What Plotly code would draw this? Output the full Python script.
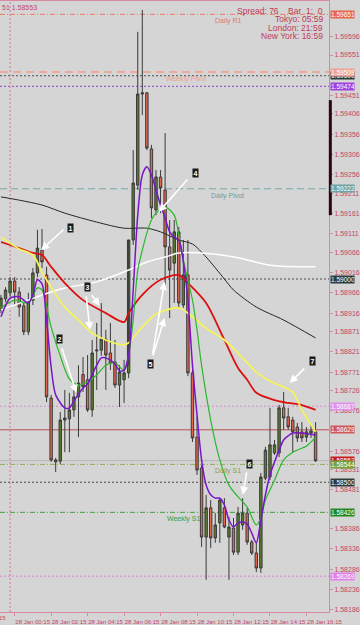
import plotly.graph_objects as go
import pandas as pd

# ---------------- data ----------------
times = pd.date_range("2013-01-27 23:30", periods=70, freq="15min")

opens = [1.58924, 1.58951, 1.58966, 1.58995, 1.58968, 1.58934, 1.58870, 1.58948, 1.59015, 1.59071,
         1.59010, 1.58707, 1.58555, 1.58552, 1.58653, 1.58656, 1.58678, 1.58710, 1.58765, 1.58752,
         1.58678, 1.58823, 1.58825, 1.58852, 1.58818, 1.58796, 1.58739, 1.58752, 1.58769, 1.59096,
         1.59231, 1.59455, 1.59458, 1.59320, 1.59170, 1.59251, 1.59219, 1.59079, 1.59039, 1.59116,
         1.58936, 1.59010, 1.58769, 1.58611, 1.58535, 1.58365, 1.58437, 1.58363, 1.58400, 1.58437,
         1.58365, 1.58387, 1.58328, 1.58395, 1.58424, 1.58353, 1.58326, 1.58289, 1.58510, 1.58513,
         1.58572, 1.58572, 1.58683, 1.58661, 1.58653, 1.58636, 1.58624, 1.58611, 1.58621, 1.58624]
highs = [1.58961, 1.58980, 1.59005, 1.59005, 1.58980, 1.58948, 1.58966, 1.59027, 1.59121, 1.59123,
         1.59030, 1.58715, 1.58560, 1.58673, 1.58727, 1.58720, 1.58727, 1.58788, 1.58808, 1.58813,
         1.58850, 1.58892, 1.58941, 1.58875, 1.58892, 1.58850, 1.58788, 1.58801, 1.58788, 1.59317,
         1.59608, 1.59662, 1.59460, 1.59330, 1.59268, 1.59268, 1.59359, 1.59145, 1.59145, 1.59128,
         1.59096, 1.59096, 1.58776, 1.58661, 1.58542, 1.58469, 1.58456, 1.58424, 1.58461, 1.58461,
         1.58415, 1.58412, 1.58439, 1.58461, 1.58437, 1.58358, 1.58351, 1.58523, 1.58587, 1.58683,
         1.58604, 1.58690, 1.58722, 1.58683, 1.58661, 1.58646, 1.58648, 1.58636, 1.58641, 1.58648]
lows = [1.58916, 1.58943, 1.58956, 1.58936, 1.58907, 1.58862, 1.58862, 1.58936, 1.59005, 1.59027,
        1.58697, 1.58550, 1.58525, 1.58545, 1.58574, 1.58574, 1.58661, 1.58611, 1.58722, 1.58673,
        1.58661, 1.58727, 1.58811, 1.58727, 1.58776, 1.58732, 1.58685, 1.58695, 1.58756, 1.59084,
        1.59219, 1.59403, 1.59317, 1.59150, 1.59157, 1.59162, 1.58973, 1.58904, 1.58941, 1.58931,
        1.58929, 1.58761, 1.58599, 1.58518, 1.58341, 1.58260, 1.58338, 1.58351, 1.58351, 1.58387,
        1.58260, 1.58321, 1.58321, 1.58383, 1.58346, 1.58321, 1.58279, 1.58277, 1.58505, 1.58505,
        1.58567, 1.58562, 1.58629, 1.58629, 1.58572, 1.58599, 1.58599, 1.58599, 1.58609, 1.58550]
closes = [1.58953, 1.58973, 1.58995, 1.58968, 1.58931, 1.58870, 1.58943, 1.59015, 1.59076, 1.59042,
          1.58710, 1.58555, 1.58550, 1.58653, 1.58658, 1.58678, 1.58710, 1.58744, 1.58735, 1.58678,
          1.58818, 1.58825, 1.58852, 1.58813, 1.58793, 1.58739, 1.58771, 1.58769, 1.59096, 1.59236,
          1.59455, 1.59458, 1.59322, 1.59175, 1.59251, 1.59224, 1.59079, 1.59022, 1.59116, 1.58941,
          1.59010, 1.58769, 1.58609, 1.58530, 1.58365, 1.58437, 1.58363, 1.58395, 1.58456, 1.58390,
          1.58390, 1.58328, 1.58424, 1.58424, 1.58353, 1.58326, 1.58289, 1.58513, 1.58579, 1.58592,
          1.58592, 1.58683, 1.58658, 1.58636, 1.58624, 1.58609, 1.58609, 1.58624, 1.58626, 1.58553]

# moving-average lines (bar index -> price)
purple_idx = [0, 2, 4, 6, 7, 8, 9, 10, 11, 12, 14, 15, 16, 18, 19, 21, 22, 23, 25, 26, 27, 28, 29, 30,
              31, 32, 33, 34, 35, 36, 37, 38, 39, 40, 41, 42, 43, 44, 45, 46, 47, 48, 49, 50, 51, 52,
              53, 54, 55, 56, 57, 58, 59, 60, 61, 62, 63, 64, 66, 69]
purple_val = [1.58907, 1.58953, 1.58956, 1.58941, 1.58961, 1.58998, 1.58988, 1.58899, 1.58784, 1.58715,
              1.58683, 1.58683, 1.58700, 1.58732, 1.58742, 1.58788, 1.58806, 1.58806, 1.58791, 1.58774,
              1.58776, 1.58813, 1.58973, 1.59157, 1.59256, 1.59276, 1.59256, 1.59219, 1.59182, 1.59150,
              1.59116, 1.59103, 1.59096, 1.59042, 1.58948, 1.58788, 1.58665, 1.58555, 1.58493, 1.58469,
              1.58461, 1.58461, 1.58444, 1.58407, 1.58390, 1.58400, 1.58402, 1.58397, 1.58375, 1.58351,
              1.58407, 1.58469, 1.58518, 1.58550, 1.58579, 1.58604, 1.58614, 1.58621, 1.58621, 1.58616]

green_idx = [0, 3, 6, 8, 9, 11, 13, 15, 17, 19, 21, 23, 25, 27, 28, 29, 30, 31, 32, 33, 34, 36, 38, 39,
             40, 42, 43, 44, 46, 48, 50, 52, 54, 56, 57, 58, 60, 62, 64, 67, 69]
green_val = [1.58929, 1.58948, 1.58941, 1.58978, 1.58973, 1.58882, 1.58811, 1.58754, 1.58739, 1.58747,
             1.58764, 1.58788, 1.58793, 1.58776, 1.58813, 1.58899, 1.59022, 1.59071, 1.59113, 1.59145,
             1.59162, 1.59177, 1.59157, 1.59108, 1.59047, 1.58948, 1.58875, 1.58788, 1.58653, 1.58555,
             1.58493, 1.58464, 1.58439, 1.58395, 1.58412, 1.58456, 1.58505, 1.58555, 1.58574, 1.58589,
             1.58611]

yellow_idx = [0, 4, 7, 9, 11, 14, 17, 20, 23, 27, 28, 31, 34, 39, 42, 45, 49, 53, 56, 59, 62, 64, 66, 69]
yellow_val = [1.59103, 1.59074, 1.59059, 1.59017, 1.58980, 1.58931, 1.58899, 1.58867, 1.58850, 1.58838,
              1.58843, 1.58882, 1.58914, 1.58929, 1.58907, 1.58879, 1.58850, 1.58806, 1.58771, 1.58749,
              1.58734, 1.58722, 1.58678, 1.58624]

red_idx = [0, 4, 7, 9, 11, 14, 18, 23, 27, 28, 31, 35, 39, 41, 45, 49, 52, 54, 56, 60, 63, 66, 69]
red_val = [1.59091, 1.59076, 1.59064, 1.59059, 1.59030, 1.58990, 1.58948, 1.58916, 1.58894, 1.58916,
           1.58961, 1.58998, 1.59010, 1.58990, 1.58941, 1.58850, 1.58781, 1.58752, 1.58720, 1.58702,
           1.58695, 1.58690, 1.58678]

white_idx = [0, 6, 11, 14, 21, 28, 32, 36, 39, 46, 52, 59, 69]
white_val = [1.58924, 1.58948, 1.58968, 1.58978, 1.58993, 1.59022, 1.59042, 1.59054, 1.59064, 1.59062,
             1.59052, 1.59034, 1.59030]

black_idx = [0, 4, 9, 14, 21, 27, 32, 35, 39, 42, 45, 49, 51, 56, 62, 69]
black_val = [1.59202, 1.59194, 1.59182, 1.59162, 1.59140, 1.59125, 1.59125, 1.59116, 1.59096, 1.59086,
             1.59054, 1.59000, 1.58973, 1.58931, 1.58899, 1.58855]

# axis ticks
y_tick_labels = ["1.59596", "1.59551", "1.59451", "1.59406", "1.59356", "1.59306", "1.59256", "1.59211",
                 "1.59161", "1.59111", "1.59066", "1.59016", "1.58966", "1.58916", "1.58871", "1.58821",
                 "1.58771", "1.58726", "1.58676", "1.58576", "1.58531", "1.58481", "1.58386", "1.58336",
                 "1.58286", "1.58236", "1.58186"]
x_tick_times = ["2013-01-28 00:15", "2013-01-28 02:15", "2013-01-28 04:15", "2013-01-28 06:15",
                "2013-01-28 08:15", "2013-01-28 10:15", "2013-01-28 12:15", "2013-01-28 14:15",
                "2013-01-28 16:15"]
x_tick_labels = ["28 Jan 00:15", "28 Jan 02:15", "28 Jan 04:15", "28 Jan 06:15", "28 Jan 08:15",
                 "28 Jan 10:15", "28 Jan 12:15", "28 Jan 14:15", "28 Jan 16:15"]

# horizontal levels: (price, colour, dash, width)
levels = [
    (1.59651, "#e87a68", "5px,2px,1px,2px", 1),   # Daily R1
    (1.59509, "#f0a898", "8px,5px", 2),           # Weekly Pivot
    (1.59500, "#4a4a4a", "2px,2px", 1),
    (1.59474, "#9040d0", "2px,2px", 1),
    (1.59222, "#78a8a8", "7px,4px", 1),           # Daily Pivot
    (1.59000, "#4a4a4a", "2px,2px", 1),
    (1.58687, "#d888d8", "2px,2px", 1),
    (1.58629, "#b85050", "solid", 1),
    (1.58553, "#b4b4b4", "solid", 1),
    (1.58544, "#90aa50", "5px,2px,1px,2px", 1),   # Daily S1
    (1.58500, "#4a4a4a", "2px,2px", 1),
    (1.58426, "#40a040", "5px,2px,1px,2px", 1),   # Weekly S1
    (1.58269, "#e080e0", "2px,2px", 1),
]
level_labels = [("Daily R1", "2013-01-28 11:09", 1.59651, "#e07868"),
                ("Weekly Pivot", "2013-01-28 08:25", 1.59509, "#eea090"),
                ("Daily Pivot", "2013-01-28 10:56", 1.59222, "#6f9e9e"),
                ("Daily S1", "2013-01-28 11:09", 1.58544, "#8a9e48"),
                ("Weekly S1", "2013-01-28 08:28", 1.58426, "#3c9c3c")]

# right-hand price boxes: (price, background)
price_boxes = [(1.59651, "#e8644a"), (1.59500, "#2c3838"), (1.59509, "#f0a494"), (1.59474, "#a040e0"),
               (1.59222, "#6fa2a2"), (1.59000, "#2c3c3c"), (1.58687, "#e090e8"), (1.58629, "#d05858"),
               (1.58553, "#c81c1c"), (1.58544, "#74a034"), (1.58500, "#2c3c3c"), (1.58426, "#208a20"),
               (1.58269, "#e080e8")]

# numbered arrows: label, label time, label price, list of (tip time, tip price, ax, ay)
arrows = [
    ("1", "2013-01-28 03:19", 1.59125, [("2013-01-28 01:42", 1.59071, 24, -22)]),
    ("2", "2013-01-28 02:43", 1.58852, [("2013-01-28 03:38", 1.58720, -15, -46)]),
    ("3", "2013-01-28 04:13", 1.58980, [("2013-01-28 04:23", 1.58875, -4, -35),
                                        ("2013-01-28 04:55", 1.58934, -9, -12)]),
    ("4", "2013-01-28 10:11", 1.59261, [("2013-01-28 08:09", 1.59165, 30, -34)]),
    ("5", "2013-01-28 07:43", 1.58791, [("2013-01-28 08:28", 1.58993, -12, 73),
                                        ("2013-01-28 08:28", 1.58904, -12, 39)]),
    ("6", "2013-01-28 13:08", 1.58545, [("2013-01-28 12:46", 1.58469, 4, -24)]),
    ("7", "2013-01-28 16:34", 1.58798, [("2013-01-28 15:20", 1.58744, 16, -16)]),
]

# ---------------- figure ----------------
BG = "#d5d5d5"
AX = "#c4466a"
FRAME = "#d88aa0"
FONT = "Liberation Sans, Arial, sans-serif"

fig = go.Figure()
fig.add_trace(go.Candlestick(
    x=times, open=opens, high=highs, low=lows, close=closes,
    increasing=dict(fillcolor="#587c2a", line=dict(color="#3a3a3a", width=1)),
    decreasing=dict(fillcolor="#e2654e", line=dict(color="#3a3a3a", width=1)),
    whiskerwidth=0, showlegend=False, hoverinfo="skip"))

def add_line(idx, val, color, width):
    fig.add_trace(go.Scatter(x=[times[i] for i in idx], y=val, mode="lines",
                             line=dict(color=color, width=width, shape="spline", smoothing=0.8),
                             showlegend=False, hoverinfo="skip"))

add_line(black_idx, black_val, "#262626", 1)
add_line(white_idx, white_val, "#ffffff", 1.5)
add_line(red_idx, red_val, "#dc1010", 1.8)
add_line(yellow_idx, yellow_val, "#f4f45a", 1.8)
add_line(green_idx, green_val, "#2cb82c", 1.2)
add_line(purple_idx, purple_val, "#7a14c8", 1.5)

for price, color, dash, width in levels:
    fig.add_shape(type="line", xref="paper", x0=0, x1=1, yref="y", y0=price, y1=price,
                  line=dict(color=color, dash=dash, width=width), layer="below")

fig.add_shape(type="line", xref="x", x0="2013-01-28 00:00", x1="2013-01-28 00:00",
              yref="paper", y0=0, y1=1, line=dict(color="#d07a90", dash="2px,2px", width=1),
              layer="below")
# dark marker on the price scale
fig.add_shape(type="line", xref="paper", x0=1.004, x1=1.004, yref="y", y0=1.59157, y1=1.59440,
              line=dict(color="#2a0612", width=3))

annotations = []
for text, t, p, c in level_labels:
    annotations.append(dict(x=t, y=p, xref="x", yref="y", text=text, showarrow=False,
                            xanchor="left", yanchor="top", yshift=-1,
                            font=dict(family=FONT, size=7, color=c)))

for p, bg in price_boxes:
    annotations.append(dict(x=1, y=p, xref="paper", yref="y", text=f"{p:.5f}", showarrow=False,
                            xanchor="left", yanchor="middle", xshift=1, width=23, height=7,
                            bgcolor=bg, borderpad=0, align="left",
                            font=dict(family=FONT, size=6.5, color="#ffffff")))

for label, lt, lp, tips in arrows:
    for tt, tp, ax, ay in tips:
        annotations.append(dict(x=tt, y=tp, xref="x", yref="y", text="", showarrow=True,
                                ax=ax, ay=ay, arrowcolor="#ffffff", arrowwidth=1.6,
                                arrowhead=2, arrowsize=1))
    annotations.append(dict(x=lt, y=lp, xref="x", yref="y", text=f"<b>{label}</b>", showarrow=False,
                            bgcolor="#1a1a1a", borderpad=0.5,
                            font=dict(family=FONT, size=7, color="#ffffff")))

info = [("Spread: 76    Bar  1:  0", 0.995), ("Tokyo: 05:59", 0.982), ("London: 21:59", 0.968),
        ("New York: 16:59", 0.954)]
for txt, yy in info:
    annotations.append(dict(x=328 / 336, y=yy, xref="paper", yref="paper", text=txt, showarrow=False,
                            xanchor="right", yanchor="top", xshift=4,
                            font=dict(family=FONT, size=8.5, color="#c03a58")))
annotations.append(dict(x=0, y=0.998, xref="paper", yref="paper", text="51 1.58553", showarrow=False,
                        xanchor="left", yanchor="top", font=dict(family=FONT, size=7, color="#c04a6a")))
annotations.append(dict(x=8 / 336, y=0, xref="paper", yref="paper", text="15", showarrow=False,
                        xanchor="right", yanchor="top", yshift=-1,
                        font=dict(family=FONT, size=6, color=AX)))

fig.update_layout(
    width=360, height=625,
    margin=dict(l=0, r=24, t=1, b=13),
    paper_bgcolor=BG, plot_bgcolor=BG,
    font=dict(family=FONT, size=7, color=AX),
    annotations=annotations,
    showlegend=False,
    boxgap=0.25,
    xaxis=dict(type="date", range=["2013-01-27 23:26:47", "2013-01-28 17:29:12"],
               rangeslider=dict(visible=False), showgrid=False, zeroline=False,
               tickvals=x_tick_times, ticktext=x_tick_labels, ticks="outside", ticklen=3,
               tickcolor=FRAME, ticklabelposition="outside", ticklabelshift=18,
               ticklabelstandoff=1, tickangle=0,
               tickfont=dict(family=FONT, size=6, color=AX),
               showline=True, linecolor=FRAME, linewidth=1, mirror=True),
    yaxis=dict(side="right", range=[1.581808, 1.596839], showgrid=False, zeroline=False,
               tickvals=[float(v) for v in y_tick_labels], ticktext=y_tick_labels,
               ticks="outside", ticklen=3, tickcolor=FRAME,
               tickfont=dict(family=FONT, size=7, color=AX),
               showline=True, linecolor=FRAME, linewidth=1),
)

fig.write_html("out.html")
